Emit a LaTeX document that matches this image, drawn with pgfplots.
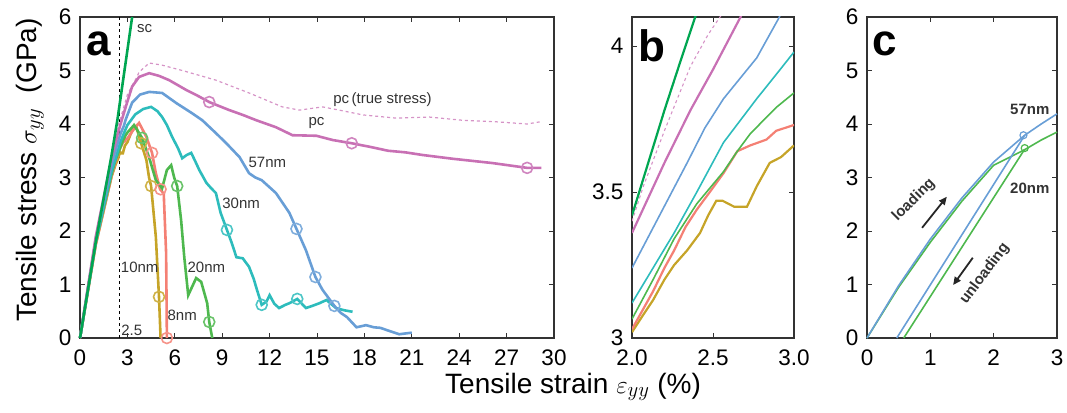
\documentclass[border=0pt]{standalone}
\usepackage{fontspec}
\setmainfont{Liberation Sans}
\usepackage{pgfplots}
\pgfplotsset{compat=1.18}
\usetikzlibrary{arrows.meta}
\definecolor{cSC}{RGB}{0,166,81}
\definecolor{cPC}{RGB}{200,112,180}
\definecolor{cB}{RGB}{104,158,214}
\definecolor{cT}{RGB}{45,188,188}
\definecolor{cG}{RGB}{78,184,78}
\definecolor{cS}{RGB}{244,128,116}
\definecolor{cY}{RGB}{198,164,40}
\pgfplotsset{
  panel/.style={
    scale only axis,
    axis line style={line width=1.1pt, black!80},
    every tick/.style={black!80, line width=0.9pt},
    tick align=inside,
    major tick length=5pt,
    ticklabel style={font=\fontsize{22.5}{24}\selectfont},
    xticklabel shift=8pt, yticklabel shift=5pt,
    /pgf/number format/assume math mode=true,
  },
  crv/.style={line width=2.6pt, #1},
  cir/.style={only marks, mark=o, mark size=5.5pt, mark options={line width=1.6pt}, #1},
}
\begin{document}
\begin{tikzpicture}
\useasboundingbox (0pt,0pt) rectangle (1067pt,412pt);
% ---------------- panel a ----------------
\begin{axis}[panel, at={(80pt,74pt)}, anchor=south west, width=474pt, height=321pt,
  xmin=0, xmax=30, ymin=0, ymax=6, xtick={0,3,...,30}, ytick={0,1,...,6}, clip=false]
\addplot[black, dashed, line width=0.8pt] coordinates {(2.5,0) (2.5,6)};
% pc true stress
\addplot[cPC!75, dashed, line width=1.2pt] coordinates {(0,0) (1,1.92) (2,3.40) (2.2,3.70) (2.4,3.97) (2.58,4.12) (3.0,4.55) (3.55,4.85) (3.74,4.97) (4.38,5.14) (5.2,5.1) (6.47,5.0) (8.6,4.82) (10.7,4.58) (12.8,4.32) (13.9,4.26) (15.35,4.32) (16.4,4.26) (17.9,4.17) (20,4.11) (22.1,4.13) (24.2,4.07) (26.4,4.04) (28.3,4.0) (29.1,4.04)};
% 10nm
\addplot[crv=cY] coordinates {(0,0) (1,1.75) (2,3.02) (2.26,3.25) (2.42,3.36) (2.52,3.47) (2.56,3.47) (2.63,3.45) (2.71,3.45) (2.77,3.52) (2.85,3.6) (3.0,3.66) (3.3,3.88) (3.55,3.96) (3.87,3.64) (4.2,3.33) (4.37,3.0) (4.5,2.84) (4.8,1.89) (5.0,0.77) (5.1,0)};
% 8nm
\addplot[crv=cS] coordinates {(0,0) (1,1.75) (2,3.03) (2.26,3.30) (2.4,3.44) (2.565,3.565) (2.73,3.66) (2.83,3.68) (2.89,3.71) (3.0,3.73) (3.4,3.9) (3.74,4.02) (4.2,3.76) (4.56,3.46) (4.8,3.08) (5.07,2.78) (5.3,2.7) (5.45,1.59) (5.5,0)};
% 20nm
\addplot[crv=cG] coordinates {(0,0) (1,1.79) (2,3.065) (2.26,3.34) (2.565,3.57) (2.73,3.70) (2.89,3.79) (3.0,3.84) (3.42,3.98) (3.93,3.74) (4.37,3.38) (4.8,2.95) (5.2,2.8) (5.5,3.14) (5.77,3.23) (5.96,3.0) (6.15,2.84) (6.4,2.2) (6.6,1.51) (6.85,0.8) (7.35,1.12) (7.67,1.05) (8.05,0.65) (8.18,0.3) (8.37,0)};
% 30nm
\addplot[crv=cT] coordinates {(0,0) (1,1.8) (2,3.12) (2.26,3.36) (2.565,3.67) (2.77,3.82) (3.0,3.98) (3.5,4.18) (4.0,4.28) (4.5,4.32) (4.9,4.24) (5.2,4.13) (5.5,3.98) (5.83,3.76) (6.2,3.55) (6.47,3.36) (6.75,3.42) (7.04,3.46) (7.3,3.3) (7.55,3.14) (8.0,2.9) (8.3,2.8) (8.6,2.71) (8.9,2.34) (9.3,2.02) (9.6,1.78) (9.9,1.51) (10.3,1.49) (10.7,1.33) (11.0,1.1) (11.2,0.9) (11.5,0.62) (11.8,0.68) (12.0,0.8) (12.3,0.64) (12.6,0.56) (13.0,0.62) (13.25,0.65) (13.75,0.73) (14.3,0.56) (14.7,0.6) (15.15,0.65) (15.6,0.71) (16.2,0.56) (16.7,0.52) (17.25,0.49)};
% 57nm
\addplot[crv=cB] coordinates {(0,0) (1,1.85) (2,3.24) (2.34,3.6) (2.565,3.82) (2.77,3.96) (2.9,4.09) (3.3,4.4) (3.8,4.55) (4.38,4.6) (5.2,4.58) (6.1,4.39) (7.1,4.2) (7.74,4.07) (8.6,3.83) (9.26,3.64) (10.1,3.38) (10.7,3.08) (11.1,3.0) (11.5,2.95) (12.4,2.71) (13.25,2.34) (13.7,2.04) (14.3,1.64) (14.9,1.14) (15.35,0.9) (16.1,0.6) (16.5,0.47) (16.9,0.39) (17.5,0.2) (18.1,0.24) (18.6,0.2) (19,0.19) (19.6,0.13) (20.2,0.07) (21,0.1)};
% pc
\addplot[crv=cPC] coordinates {(0,0) (1,1.9) (2,3.36) (2.2,3.6) (2.4,3.83) (2.67,4.1) (3.0,4.42) (3.3,4.7) (3.74,4.88) (4.38,4.95) (5.0,4.9) (5.64,4.82) (6.7,4.64) (7.5,4.52) (8.18,4.41) (9.45,4.26) (10.3,4.17) (11.16,4.07) (12.4,3.94) (13.45,3.79) (14.96,3.78) (16.0,3.7) (17.2,3.64) (18.4,3.57) (19.5,3.5) (20.6,3.47) (21.7,3.42) (23.6,3.35) (26.1,3.27) (28.3,3.18) (29.2,3.18)};
% sc
\addplot[crv=cSC] coordinates {(0,0) (1,1.8) (2,3.42) (2.38,4.1) (3.3,6.0)};
% circles
\addplot[cir=cY!85] coordinates {(3.87,3.64) (4.5,2.84) (5.0,0.77)};
\addplot[cir=cS!85] coordinates {(4.56,3.46) (5.1,2.78) (5.5,0.0)};
\addplot[cir=cG!85] coordinates {(3.93,3.74) (6.15,2.84) (8.18,0.3)};
\addplot[cir=cT!85] coordinates {(9.3,2.02) (11.5,0.62) (13.75,0.73)};
\addplot[cir=cB!85] coordinates {(13.7,2.04) (14.9,1.14) (16.1,0.6)};
\addplot[cir=cPC!85] coordinates {(8.18,4.41) (17.2,3.64) (28.3,3.18)};
% labels
\begin{scope}[every node/.style={font=\fontsize{15}{17}\selectfont, text=black!80, inner sep=0pt}]
\node[anchor=west] at (axis cs:3.6,5.78) {sc};
\node at (axis cs:19.15,4.45) {pc\,(true stress)};
\node at (axis cs:14.97,4.02) {pc};
\node at (axis cs:11.86,3.29) {57nm};
\node at (axis cs:10.2,2.52) {30nm};
\node[anchor=west] at (axis cs:2.58,1.33) {10nm};
\node at (axis cs:8.0,1.33) {20nm};
\node at (axis cs:6.47,0.43) {8nm};
\node[anchor=west] at (axis cs:2.6,0.14) {2.5};
\end{scope}
\node[font=\fontsize{44}{46}\selectfont\bfseries, inner sep=0pt] at (axis cs:1.2,5.5) {a};
\end{axis}
% ---------------- panel b ----------------
\begin{axis}[panel, at={(632pt,74pt)}, anchor=south west, width=162pt, height=321pt,
  xmin=2, xmax=3, ymin=3, ymax=4.1, xtick={2,2.5,3}, xticklabels={2.0,2.5,3.0},
  ytick={3,3.5,4}, yticklabels={3,3.5,4}]
\addplot[cPC!75, dashed, line width=1.1pt] coordinates {(2.0,3.40) (2.07,3.52) (2.2,3.71) (2.36,3.93) (2.47,4.04) (2.58,4.13)};
\addplot[crv=cY, line width=2.2pt] coordinates {(2.0,3.02) (2.07,3.08) (2.13,3.13) (2.2,3.2) (2.26,3.25) (2.34,3.3) (2.42,3.36) (2.47,3.42) (2.52,3.47) (2.56,3.47) (2.63,3.45) (2.71,3.45) (2.77,3.52) (2.85,3.6) (2.92,3.62) (3.0,3.66)};
\addplot[crv=cS, line width=2.2pt] coordinates {(2.0,3.03) (2.07,3.1) (2.13,3.16) (2.2,3.24) (2.26,3.30) (2.33,3.38) (2.4,3.44) (2.48,3.5) (2.565,3.565) (2.65,3.64) (2.73,3.66) (2.83,3.68) (2.89,3.71) (3.0,3.73)};
\addplot[crv=cG, line width=1.6pt] coordinates {(2.0,3.065) (2.13,3.2) (2.26,3.34) (2.4,3.46) (2.565,3.57) (2.65,3.64) (2.73,3.70) (2.89,3.79) (3.0,3.84)};
\addplot[crv=cT, line width=1.6pt] coordinates {(2.0,3.12) (2.13,3.24) (2.26,3.36) (2.4,3.5) (2.565,3.67) (2.77,3.82) (2.9,3.91) (3.0,3.98)};
\addplot[crv=cB, line width=1.6pt] coordinates {(2.0,3.24) (2.17,3.42) (2.34,3.6) (2.45,3.72) (2.565,3.82) (2.77,3.96) (2.9,4.09) (3.0,4.2)};
\addplot[crv=cPC, line width=2.2pt] coordinates {(2.0,3.36) (2.2,3.6) (2.36,3.78) (2.5,3.92) (2.67,4.1) (2.75,4.2)};
\addplot[crv=cSC, line width=2.2pt] coordinates {(2.0,3.42) (2.1,3.6) (2.2,3.78) (2.3,3.95) (2.39,4.1) (2.45,4.2)};
\node[font=\fontsize{44}{46}\selectfont\bfseries, inner sep=0pt] at (axis cs:2.12,4.0) {b};
\end{axis}
% ---------------- panel c ----------------
\begin{axis}[panel, at={(867pt,74pt)}, anchor=south west, width=190pt, height=321pt,
  xmin=0, xmax=3, ymin=0, ymax=6, xtick={0,1,2,3}, ytick={0,1,...,6}, clip=false]
\addplot[cG, line width=1.6pt] coordinates {(0,0) (0.5,0.95) (1.0,1.79) (1.5,2.56) (2.0,3.23) (2.49,3.52) (2.75,3.7) (3.0,3.85)};
\addplot[cG, line width=1.6pt] coordinates {(2.49,3.53) (0.58,0)};
\addplot[cB, line width=1.6pt] coordinates {(0,0) (0.5,0.98) (1.0,1.85) (1.5,2.62) (2.0,3.29) (2.49,3.79) (2.75,4.0) (3.0,4.19)};
\addplot[cB, line width=1.6pt] coordinates {(2.49,3.79) (0.47,0)};
\addplot[cir=cB, mark size=3.5pt, mark options={line width=1.2pt}] coordinates {(2.47,3.79)};
\addplot[cir=cG, mark size=3.5pt, mark options={line width=1.2pt}] coordinates {(2.49,3.55)};
\begin{scope}[every node/.style={font=\fontsize{15}{17}\selectfont\bfseries, text=black!80, inner sep=0pt}]
\node at (axis cs:2.57,4.28) {57nm};
\node at (axis cs:2.57,2.79) {20nm};
\node[rotate=45] at (axis cs:0.74,2.58) {loading};
\node[rotate=53] at (axis cs:1.86,1.2) {unloading};
\end{scope}
\draw[-{Triangle[length=8pt,width=7pt]}, line width=1.8pt, black!85] (axis cs:0.87,2.06) -- (axis cs:1.26,2.64);
\draw[-{Triangle[length=8pt,width=7pt]}, line width=1.8pt, black!85] (axis cs:1.67,1.5) -- (axis cs:1.36,0.99);
\node[font=\fontsize{44}{46}\selectfont\bfseries, inner sep=0pt] at (axis cs:0.28,5.5) {c};
\end{axis}
% axis titles
\node[rotate=90, font=\fontsize{28}{30}\selectfont, inner sep=0pt] at (30pt,242pt) {Tensile stress $\sigma_{yy}$ \ (GPa)};
\node[font=\fontsize{28}{30}\selectfont, inner sep=0pt] at (573pt,25pt) {Tensile strain $\varepsilon_{yy}$ (\%)};
\end{tikzpicture}
\end{document}
